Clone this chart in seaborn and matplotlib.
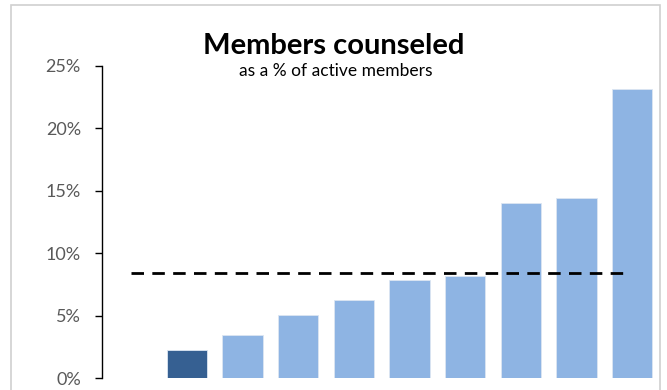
import matplotlib
matplotlib.use("Agg")
import matplotlib.pyplot as plt
import matplotlib.patches as mpatches
from matplotlib.ticker import FuncFormatter
import seaborn as sns
import pandas as pd

# Share of active members counseled, per unit (sorted ascending)
units = ["Unit A", "Unit B", "Unit C", "Unit D", "Unit E",
         "Unit F", "Unit G", "Unit H", "Unit I", "Unit J"]
pct_counseled = [0.05, 2.26, 3.5, 5.03, 6.24, 7.86, 8.16, 14.02, 14.4, 23.14]
highlight = "Unit B"
average_pct = 8.45
y_ticks = [0, 5, 10, 15, 20, 25]

sns.set_theme(style="white")
plt.rcParams["font.family"] = ["Lato", "DejaVu Sans"]

light = "#8EB4E3"
dark = "#366092"

df = pd.DataFrame({"unit": units, "pct": pct_counseled})
palette = {u: (dark if u == highlight else light) for u in units}

fig = plt.figure(figsize=(6.67, 3.90), dpi=100)
ax = fig.add_axes([101.7 / 667, 11.7 / 390, (660 - 101.7) / 667, (378.3 - 65.7) / 390])

sns.barplot(data=df, x="unit", y="pct", hue="unit", palette=palette,
            saturation=1, legend=False, width=0.72, ax=ax,
            edgecolor="#dce6f2", linewidth=0.6)

ax.hlines(average_pct, -0.01, 8.9, colors="black", linestyles=(0, (4.5, 3)),
          linewidth=2.0, zorder=5)

ax.set_xlim(-0.53, 9.5)
ax.set_ylim(0, 25)
ax.set_yticks(y_ticks)
ax.yaxis.set_major_formatter(FuncFormatter(lambda v, _: f"{v:.0f}%"))
ax.set_xticks([])
ax.set_xlabel("")
ax.set_ylabel("")

for side in ("top", "right", "bottom"):
    ax.spines[side].set_visible(False)
ax.spines["left"].set_color("black")
ax.spines["left"].set_linewidth(1.0)
ax.tick_params(axis="y", which="major", left=True, length=5, width=1.0,
               color="black", pad=10, labelsize=13, labelcolor="#595959")

fig.text(0.5, 1 - 45.5 / 390, "Members counseled", ha="center", va="center",
         fontsize=21, fontweight="bold", color="black")
fig.text(0.503, 1 - 71 / 390, "as a % of active members", ha="center",
         va="center", fontsize=12.5, color="black")

# Light gray chart frame
frame = mpatches.Rectangle((10.5 / 667, -0.05), (660 - 10.5) / 667, 1.05 - 5 / 390,
                           transform=fig.transFigure, fill=False,
                           edgecolor="#d0d0d0", linewidth=1.2, zorder=0)
fig.patches.append(frame)

fig.savefig("out.png", dpi=100)
